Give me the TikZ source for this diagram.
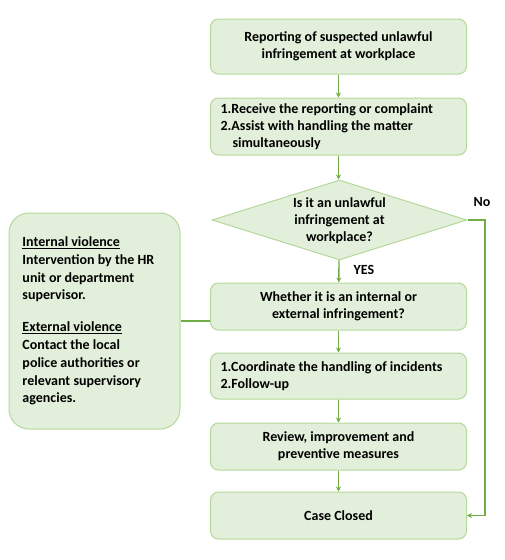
\documentclass[tikz,border=0pt]{standalone}
\usepackage{fontspec}
\setmainfont{Carlito}
\usetikzlibrary{shapes.geometric,arrows.meta}
\definecolor{boxfill}{HTML}{E2EFDA}
\definecolor{boxline}{HTML}{B4D89A}
\definecolor{arr}{HTML}{70AD47}
\tikzset{
  box/.style={draw=boxline, fill=boxfill, line width=1pt, rounded corners=8pt, minimum width=256pt, inner sep=0pt, align=center, font=\bfseries\fontsize{14}{17}\selectfont},
  conn/.style={draw=arr, line width=1.4pt, -{Stealth[length=5pt,width=5pt]}},
  link/.style={draw=arr, line width=1.4pt},
  lbl/.style={font=\bfseries\fontsize{14}{16}\selectfont, inner sep=0pt}
}
\begin{document}
\begin{tikzpicture}[x=1pt,y=1pt]
\useasboundingbox (0,0) rectangle (505,-560);
\node[box, minimum height=55pt] (b1) at (338.5,-46.5) {Reporting of suspected unlawful\\infringement at workplace};
\node[box, minimum height=57pt, align=left] (b2) at (338.5,-126.5) {\begin{minipage}{236pt}\fontsize{14}{17}\selectfont 1.Receive the reporting or complaint\\2.Assist with handling the matter\\\hspace*{12pt}simultaneously\end{minipage}};
\node[diamond, draw=boxline, fill=boxfill, line width=1pt, minimum width=255pt, minimum height=80pt, inner sep=0pt] (d) at (339.5,-220) {};
\node[align=center, font=\bfseries\fontsize{14}{17}\selectfont, inner sep=0pt] (dt) at (339.5,-221) {Is it an unlawful\\infringement at\\workplace?};
\node[box, minimum height=47pt] (b4) at (338.5,-306.5) {Whether it is an internal or\\external infringement?};
\node[box, minimum height=46pt, align=left] (b5) at (338.5,-376) {\begin{minipage}{236pt}\fontsize{14}{17}\selectfont 1.Coordinate the handling of incidents\\2.Follow-up\end{minipage}};
\node[box, minimum height=47pt] (b6) at (338.5,-446.5) {Review, improvement and\\preventive measures};
\node[box, minimum height=47pt] (b7) at (338.5,-515.5) {Case Closed};
\node[box, minimum width=171pt, minimum height=216pt, rounded corners=20pt, align=left] (lb) at (94.5,-321) {\begin{minipage}{144pt}\fontsize{14}{17.8}\selectfont\underline{Internal violence}\\Intervention by the HR\\unit or department\\supervisor.\\[14pt]\underline{External violence}\\Contact the local\\police authorities or\\relevant supervisory\\agencies.\end{minipage}};
\draw[conn] (b1) -- (b2);
\draw[conn] (b2) -- (d.north -| b2);
\draw[conn] (d) -- (b4);
\draw[conn] (b4) -- (b5);
\draw[conn] (b5) -- (b6);
\draw[conn] (b6) -- (b7);
\coordinate (nr) at (485,-220);
\draw[conn] (d.east) -| (nr) |- (b7.east);
\draw[link] (lb.east) -- (lb.east -| b4.west);
\node[lbl] (no) at (482,-202) {No};
\node[lbl] (yes) at (364,-270) {YES};
\end{tikzpicture}
\end{document}
